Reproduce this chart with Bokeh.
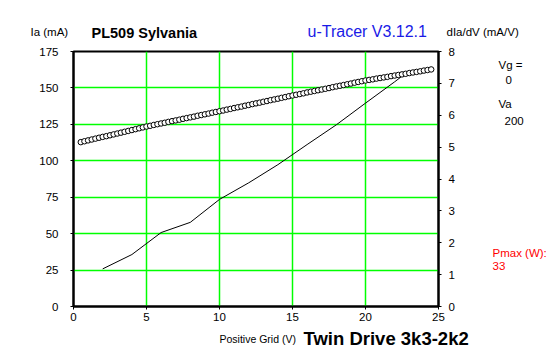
from bokeh.plotting import figure
from bokeh.models import Range1d, LinearAxis, FixedTicker
from bokeh.layouts import column, row
from bokeh.core.properties import value
from bokeh.embed import file_html
from bokeh.resources import INLINE

# ---- data ----
grid_v = [0.5, 0.75, 1.0, 1.25, 1.5, 1.75, 2.0, 2.25, 2.5, 2.75, 3.0, 3.25, 3.5, 3.75, 4.0, 4.25, 4.5, 4.75,
          5.0, 5.25, 5.5, 5.75, 6.0, 6.25, 6.5, 6.75, 7.0, 7.25, 7.5, 7.75, 8.0, 8.25, 8.5, 8.75, 9.0, 9.25, 9.5, 9.75,
          10.0, 10.25, 10.5, 10.75, 11.0, 11.25, 11.5, 11.75, 12.0, 12.25, 12.5, 12.75, 13.0, 13.25, 13.5, 13.75,
          14.0, 14.25, 14.5, 14.75, 15.0, 15.25, 15.5, 15.75, 16.0, 16.25, 16.5, 16.75, 17.0, 17.25, 17.5, 17.75,
          18.0, 18.25, 18.5, 18.75, 19.0, 19.25, 19.5, 19.75, 20.0, 20.25, 20.5, 20.75, 21.0, 21.25, 21.5, 21.75,
          22.0, 22.25, 22.5, 22.75, 23.0, 23.25, 23.5, 23.75, 24.0, 24.25, 24.5]
ia_ma = [112.8, 113.4, 114.0, 114.6, 115.2, 115.8, 116.4, 116.9, 117.5, 118.1, 118.7, 119.3, 119.9, 120.5, 121.1, 121.7, 122.3, 122.9,
         123.5, 124.0, 124.6, 125.1, 125.6, 126.1, 126.7, 127.2, 127.7, 128.2, 128.8, 129.3, 129.8, 130.3, 130.9, 131.4, 131.9, 132.4, 133.0, 133.5,
         134.0, 134.5, 135.1, 135.6, 136.2, 136.7, 137.2, 137.8, 138.3, 138.9, 139.4, 139.9, 140.5, 141.0, 141.6, 142.1,
         142.6, 143.2, 143.7, 144.3, 144.8, 145.3, 145.8, 146.3, 146.9, 147.4, 147.9, 148.4, 148.9, 149.4, 149.9, 150.5,
         151.0, 151.5, 152.0, 152.5, 153.0, 153.6, 154.1, 154.6, 155.1, 155.5, 155.9, 156.4, 156.8, 157.2, 157.6, 158.1,
         158.5, 158.9, 159.3, 159.7, 160.2, 160.6, 161.0, 161.4, 161.9, 162.3, 162.7]

gm_v = [2, 4, 6, 8, 10, 12, 14, 16, 18, 20, 22, 23]
gm_mav = [1.18, 1.63, 2.32, 2.64, 3.36, 3.88, 4.45, 5.08, 5.70, 6.38, 7.05, 7.40]

x_ticks = [0, 5, 10, 15, 20, 25]
y_ticks = [0, 25, 50, 75, 100, 125, 150, 175]
y2_ticks = [0, 1, 2, 3, 4, 5, 6, 7, 8]

title_text = "PL509 Sylvania"
tracer_text = "u-Tracer V3.12.1"
y_label = "Ia (mA)"
y2_label = "dIa/dV (mA/V)"
x_label = "Positive Grid (V)"
note_text = "Twin Drive 3k3-2k2"
side_texts = ["Vg =", "0", "Va", "200"]
pmax_texts = ["Pmax (W):", "33"]

SMALL = "Liberation Sans"
GREEN = "#00ff00"

W, H = 547, 357
TOP_H, BOT_H, RIGHT_W = 43, 30, 77
MAIN_W, MAIN_H = W - RIGHT_W, H - TOP_H - BOT_H


def text_fig(w, h):
    f = figure(width=w, height=h, x_range=Range1d(0, w), y_range=Range1d(h, 0),
               output_backend="svg", toolbar_location=None,
               min_border=0, min_border_left=0, min_border_right=0, min_border_top=0, min_border_bottom=0)
    f.xaxis.visible = False
    f.yaxis.visible = False
    f.grid.visible = False
    f.outline_line_color = None
    f.background_fill_color = "white"
    f.border_fill_color = "white"
    return f


def put(f, texts, xs, ys, size="11.5px", font=SMALL, color="black", style="normal"):
    f.text(x=xs, y=ys, text=texts, text_font=value(font), text_font_size=value(size),
           text_color=color, text_font_style=style, text_align="left", text_baseline="middle")


# ---- main plot ----
p = figure(width=MAIN_W, height=MAIN_H, x_range=Range1d(0, 25), y_range=Range1d(0, 175),
           output_backend="svg", toolbar_location=None,
           min_border_left=73, min_border_right=MAIN_W - 438,
           min_border_top=51 - TOP_H, min_border_bottom=MAIN_H - (51 - TOP_H) - 255)
p.background_fill_color = "white"
p.border_fill_color = "white"
p.outline_line_color = "black"
p.outline_line_width = 2

p.extra_y_ranges = {"d": Range1d(0, 8)}
ax2 = LinearAxis(y_range_name="d")
p.add_layout(ax2, "right")

p.xaxis.ticker = FixedTicker(ticks=x_ticks)
p.yaxis[0].ticker = FixedTicker(ticks=y_ticks)
ax2.ticker = FixedTicker(ticks=y2_ticks)

for ax in [p.xaxis[0], p.yaxis[0], ax2]:
    ax.axis_line_color = "black"
    ax.axis_line_width = 2
    ax.major_tick_line_color = "black"
    ax.major_tick_out = 3
    ax.major_tick_in = 0
    ax.minor_tick_line_color = None
    ax.major_label_text_font = SMALL
    ax.major_label_text_font_size = "11.5px"
    ax.major_label_text_color = "black"
p.yaxis[0].major_label_standoff = 12
ax2.major_label_standoff = 7
p.xaxis[0].major_label_standoff = 3

p.xgrid.ticker = FixedTicker(ticks=[5, 10, 15, 20])
p.ygrid.ticker = FixedTicker(ticks=[25, 50, 75, 100, 125, 150])
p.xgrid.grid_line_color = GREEN
p.ygrid.grid_line_color = GREEN
p.xgrid.grid_line_width = 1.5
p.ygrid.grid_line_width = 1.5

p.line(gm_v, gm_mav, y_range_name="d", line_color="black", line_width=1)
p.scatter(grid_v, ia_ma, marker="circle", size=5.5, fill_color="white", line_color="black", line_width=1)

# ---- text panels ----
top = text_fig(W, TOP_H)
put(top, [y_label], [30], [31])
put(top, [title_text], [91], [32], size="14.5px", style="bold")
put(top, [tracer_text], [307], [31], size="16px", color="#1a1ae6")
put(top, [y2_label], [446], [31])

right = text_fig(RIGHT_W, MAIN_H)
put(right, side_texts, [498 - MAIN_W, 505 - MAIN_W, 498 - MAIN_W, 504 - MAIN_W],
    [58 - TOP_H, 75 - TOP_H, 102 - TOP_H, 120 - TOP_H])
put(right, pmax_texts, [492 - MAIN_W, 492 - MAIN_W], [267 - TOP_H, 282 - TOP_H], color="#ff0000")

bottom = text_fig(W, BOT_H)
by = 338 - (H - BOT_H)
put(bottom, [x_label], [219], [by], size="10.5px")
put(bottom, [note_text], [303], [by], size="18.5px", style="bold")

layout = column(top, row(p, right, spacing=0), bottom, spacing=0)

open("out.html", "w").write(file_html(layout, INLINE))
